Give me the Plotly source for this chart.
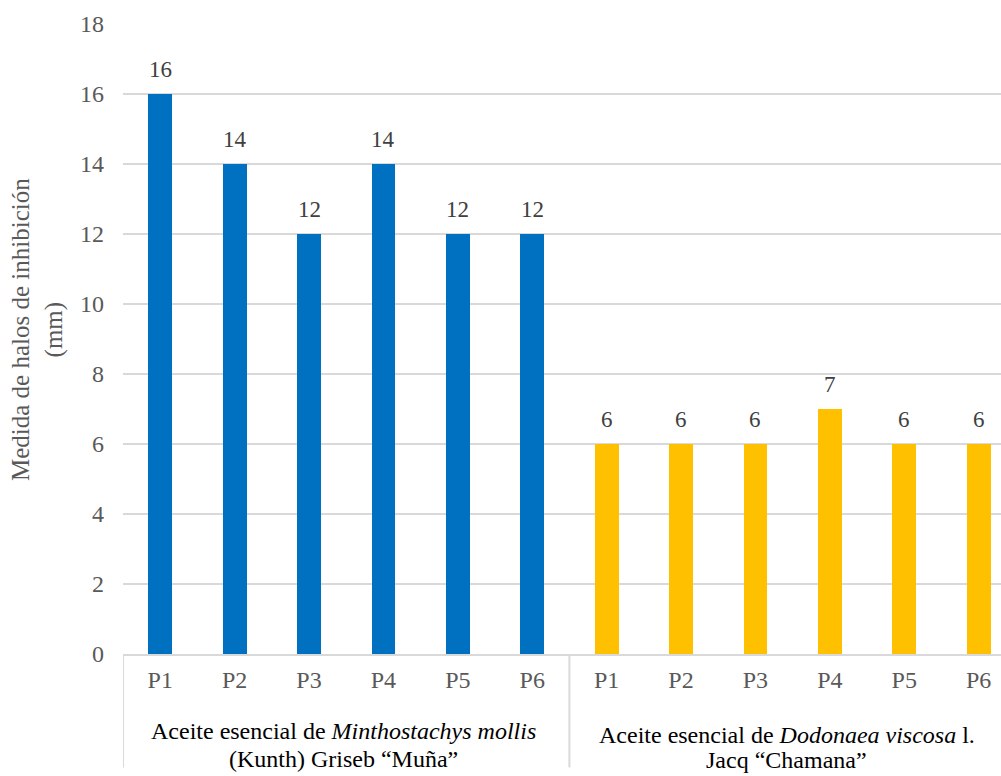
import plotly.graph_objects as go

# Inhibition halo measurements (mm) for each plate, per essential oil
plates = ["P1", "P2", "P3", "P4", "P5", "P6"]
muna_values = [16, 14, 12, 14, 12, 12]
chamana_values = [6, 6, 6, 7, 6, 6]

# two-line group captions under the plate labels
muna_label = ["Aceite esencial de <i>Minthostachys mollis</i>",
              "(Kunth) Griseb “Muña”"]
chamana_label = ["Aceite esencial de <i>Dodonaea viscosa</i> l.",
                 "Jacq “Chamana”"]

y_ticks = list(range(0, 19, 2))

BLUE = "#0070C0"
GOLD = "#FFC000"
GRID = "#D9D9D9"
FONT = "'Times New Roman', 'Liberation Serif', 'DejaVu Serif', serif"

n = len(plates)
x_muna = list(range(n))
x_chamana = list(range(n, 2 * n))

fig = go.Figure()
fig.add_trace(go.Bar(x=x_muna, y=muna_values, width=0.32,
                     marker=dict(color=BLUE, line=dict(width=0)),
                     hoverinfo="y"))
fig.add_trace(go.Bar(x=x_chamana, y=chamana_values, width=0.32,
                     marker=dict(color=GOLD, line=dict(width=0)),
                     hoverinfo="y"))

# value labels above each bar
for xs, vals in ((x_muna, muna_values), (x_chamana, chamana_values)):
    for xv, v in zip(xs, vals):
        fig.add_annotation(x=xv, y=v, text=str(v), showarrow=False,
                           yanchor="middle", yshift=25,
                           font=dict(family=FONT, size=23, color="#404040"))

# group captions, one annotation per line
def add_caption(xc, lines, shifts):
    for line, dy in zip(lines, shifts):
        fig.add_annotation(x=xc, y=0, yref="paper", text=line,
                           showarrow=False, yanchor="middle", yshift=dy,
                           font=dict(family=FONT, size=24, color="#000000"))

add_caption((x_muna[0] + x_muna[-1]) / 2 - 0.04, muna_label, (-77, -105))
add_caption(x_chamana[0] + 2.5 - 0.08, chamana_label, (-81, -106))

# group divider lines under the axis
for xd in (-0.5, n - 0.5):
    fig.add_shape(type="line", xref="x", yref="paper",
                  x0=xd, x1=xd, y0=0, y1=-0.18,
                  line=dict(color=GRID, width=2))

# y-axis title
fig.add_annotation(x=0, xref="paper", y=0.5, yref="paper",
                   text="Medida de halos de inhibición<br>(mm)",
                   textangle=-90, showarrow=False,
                   xanchor="center", yanchor="middle",
                   xshift=-86, yshift=9,
                   font=dict(family=FONT, size=25, color="#595959"))

fig.update_layout(
    width=1001, height=776,
    margin=dict(l=123, r=0, t=24, b=122),
    paper_bgcolor="white", plot_bgcolor="white",
    showlegend=False,
    bargap=0,
    font=dict(family=FONT, size=23, color="#595959"),
    xaxis=dict(range=[-0.5, -0.5 + 878 / 74.4],
               tickvals=x_muna + x_chamana,
               ticktext=plates + plates,
               ticks="", showgrid=False, zeroline=False,
               showline=True, linecolor=GRID, linewidth=2,
               ticklabelstandoff=3,
               tickfont=dict(family=FONT, size=24, color="#595959")),
    yaxis=dict(range=[0, 18], tickvals=y_ticks,
               showgrid=True, gridcolor=GRID, gridwidth=1.5,
               zeroline=False, showline=False, ticks="",
               ticklabelstandoff=18,
               tickfont=dict(family=FONT, size=24, color="#595959")),
)

fig.write_html("out.html")
